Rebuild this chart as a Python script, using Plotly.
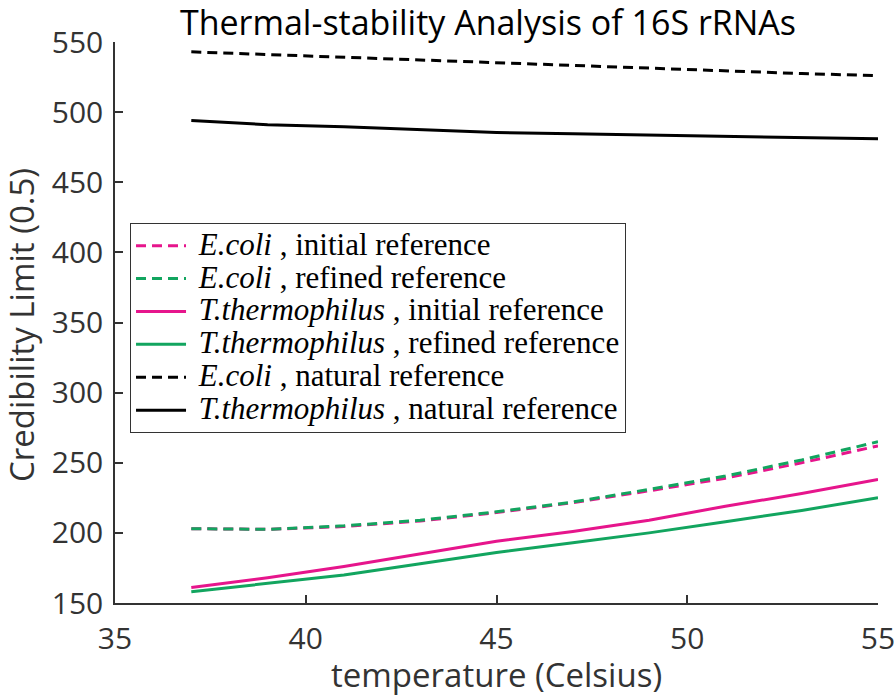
import plotly.graph_objects as go

temperature = [37, 39, 41, 43, 45, 47, 49, 51, 53, 55]
ecoli_initial = [203, 202.5, 204.5, 208.5, 214.5, 221.5, 230, 239, 250, 262]
ecoli_refined = [203, 202.5, 205, 209, 215, 222, 231, 240.5, 252, 265]
tth_initial = [161, 168, 176, 185, 194, 201, 209, 219, 228, 238]
tth_refined = [158, 164, 170, 178, 186, 193, 200, 208, 216, 225]
ecoli_natural = [543, 541, 539, 537, 535, 533, 531, 529.5, 527.5, 526]
tth_natural = [494, 491, 489.5, 487.5, 485.5, 484.5, 483.5, 482.5, 481.5, 481]

x_ticks = [35, 40, 45, 50, 55]
y_ticks = [150, 200, 250, 300, 350, 400, 450, 500, 550]

x_title = "temperature (Celsius)"
y_title = "Credibility Limit (0.5)"
chart_title = "Thermal-stability Analysis of 16S rRNAs"

series_names = [
    "<i>E.coli</i> , initial reference",
    "<i>E.coli</i> , refined reference",
    "<i>T.thermophilus</i> , initial reference",
    "<i>T.thermophilus</i> , refined reference",
    "<i>E.coli</i> , natural reference",
    "<i>T.thermophilus</i> , natural reference",
]

PINK = "#E6158C"
GREEN = "#12A55F"
BLACK = "#000000"
DASH = "10px,6px"

series = [
    (ecoli_initial, PINK, DASH),
    (ecoli_refined, GREEN, DASH),
    (tth_initial, PINK, "solid"),
    (tth_refined, GREEN, "solid"),
    (ecoli_natural, BLACK, DASH),
    (tth_natural, BLACK, "solid"),
]

fig = go.Figure()
for name, (vals, color, dash) in zip(series_names, series):
    fig.add_trace(go.Scatter(
        x=temperature, y=vals, mode="lines",
        name='<span style="font-size:31px">&#160;' + name + '</span>',
        line=dict(color=color, width=3, dash=dash),
    ))

axis_common = dict(
    showline=True, linecolor="#333333", linewidth=1.5,
    ticks="inside", ticklen=8, tickcolor="#333333", tickwidth=1.5,
    showgrid=False, zeroline=False, mirror=False,
    automargin=False,
    ticklabeloverflow="allow",
    tickfont=dict(family="Open Sans", size=30, color="#333333"),
)

title_font = dict(family="Open Sans", size=33, color="#333333")

fig.update_layout(
    width=894, height=698,
    margin=dict(l=115, r=16, t=42, b=95),
    paper_bgcolor="white", plot_bgcolor="white",
    title=dict(text=chart_title,
               x=488 / 894, xanchor="center", xref="container", y=1 - 23 / 698, yanchor="middle", yref="container",
               font=dict(family="Open Sans", size=34, color="#000000")),
    xaxis=dict(range=[35, 55], tickvals=x_ticks, ticklabelstandoff=8, **axis_common),
    yaxis=dict(range=[150, 550], tickvals=y_ticks, ticklabelstandoff=4, **axis_common),
    legend=dict(
        x=0.0197, y=0.677, xanchor="left", yanchor="top",
        bgcolor="white", bordercolor="#333333", borderwidth=1,
        font=dict(family="Liberation Serif", size=23, color="#000000"),
        tracegroupgap=0, itemwidth=50,
    ),
    showlegend=True,
    annotations=[
        dict(text=x_title, xref="paper", yref="paper", x=0.5, y=(603 - 674) / 561,
             xanchor="center", yanchor="middle", showarrow=False, font=title_font),
        dict(text=y_title, xref="paper", yref="paper", x=(22 - 115) / 763, y=(603 - 325) / 561,
             xanchor="center", yanchor="middle", textangle=-90, showarrow=False, font=title_font),
    ],
)

fig.write_html("out.html", config={"displayModeBar": False},
               post_script="document.body.style.margin='0';document.body.style.overflow='hidden';")
